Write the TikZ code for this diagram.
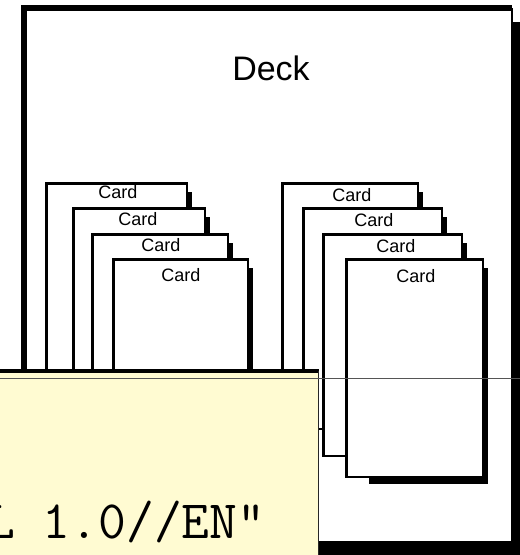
\documentclass[tikz,border=0pt]{standalone}
\usepackage{fontspec}
\setmainfont{Liberation Sans}
\definecolor{tipyellow}{HTML}{FFFBD2}
\definecolor{tipline}{HTML}{555555}
\tikzset{
  decklabel/.style={font=\fontsize{34}{34}\selectfont, inner sep=0},
  cardlabel/.style={font=\fontsize{18}{18}\selectfont, inner sep=0},
  thinedge/.style={line width=1.2pt},
  thickedge/.style={line width=3pt},
}
% name, x1, y1, x2, y2, label x, label y
\newcommand\cardbox[7]{%
  \fill ({#2+24},{#3+10}) rectangle ({#4+5},{#5+7});
  \fill[white] (#2,#3) rectangle (#4,#5);
  \draw[thinedge] (#4,#3) -- (#4,#5) -- (#2,#5);
  \draw[thickedge] ({#2+1.5},#5) -- ({#2+1.5},{#3+1.5}) -- (#4,{#3+1.5});
  \node[cardlabel] (#1) at (#6,#7) {Card};
}
\begin{document}
\begin{tikzpicture}[x=1pt,y=-1pt]
\useasboundingbox (0,0) rectangle (520,555);
% deck
\fill (30,22) rectangle (522,560);
\fill[white] (21,4) rectangle (512,542);
\draw[thinedge] (512,8) -- (512,542) -- (24,542);
\draw[line width=6pt] (24,542) -- (24,7.5) -- (512,7.5);
\node[decklabel] (deck) at (271,68) {Deck};
% left stack
\cardbox{l1}{45}{182}{187}{403}{118}{192}
\cardbox{l2}{72}{207}{205}{428}{138}{219}
\cardbox{l3}{91}{233}{228}{454}{161}{245}
\cardbox{l4}{112}{258}{248}{478}{181}{275}
% right stack
\cardbox{r1}{281}{182}{418}{403}{352}{195}
\cardbox{r2}{302}{207}{442}{429}{374}{220}
\cardbox{r3}{322}{233}{462}{456}{396}{246}
\cardbox{r4}{345}{258}{483}{477}{416}{276}
% tooltip overlay
\fill[tipyellow] (-5,371) rectangle (318,560);
\draw[line width=4.5pt] (-5,371) -- (319,371);
\draw[line width=1pt, black!85] (318,371) -- (318,560);
\draw[tipline, line width=0.8pt] (0,378) -- (520,378);
\node[anchor=base west, inner sep=0, font=\ttfamily\fontsize{54}{56}\selectfont] (tiptext) at (-13,538) {L 1.0//EN"};
\end{tikzpicture}
\end{document}
